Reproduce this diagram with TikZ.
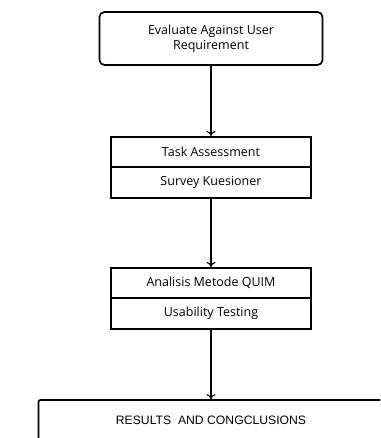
\documentclass[tikz,border=0pt]{standalone}
\usepackage{fontspec}
\usepackage{tikz}
\usetikzlibrary{positioning, arrows.meta}
\setmainfont{Open Sans}
\newfontfamily\resultfont{Liberation Sans}

\tikzset{
  box/.style={draw, rectangle, line width=1.7pt, fill=white, font=\fontsize{12.5}{15}\selectfont},
  halfbox/.style={box, minimum width=200pt, minimum height=30.5pt, inner sep=0pt},
  flow/.style={-{To[length=5pt, width=9pt]}, line width=1.1pt}
}

\begin{document}
\begin{tikzpicture}[node distance=30.5pt, x=1pt, y=1pt]
      \useasboundingbox (0,0) rectangle (380,-438);
      \clip (0,0) rectangle (380,-438);
      \node (eval) [box, rounded corners=5pt, minimum width=223pt, minimum height=53pt, align=center] at (211,-38.5) {Evaluate Against User\\Requirement};
      \node (task) [halfbox, below of=eval, yshift=-83pt] {Task Assessment};
      \node (survey) [halfbox, below of=task] {Survey Kuesioner};
      \node (quim) [halfbox, below of=survey, yshift=-70pt] {Analisis Metode QUIM};
      \node (usability) [halfbox, below of=quim] {Usability Testing};
      % last box runs off the page
      \node (results) [box, rounded corners=2pt, minimum width=345pt, minimum height=40pt, below of=usability, yshift=-76pt, font=\resultfont\fontsize{12.2}{14}\selectfont] {RESULTS\ \ AND CONGCLUSIONS};
      
      \draw[flow] (eval) -- (task);
      \draw[flow] (survey) -- (quim);
      \draw[flow] (usability) -- (results);
    \end{tikzpicture}
\end{document}
